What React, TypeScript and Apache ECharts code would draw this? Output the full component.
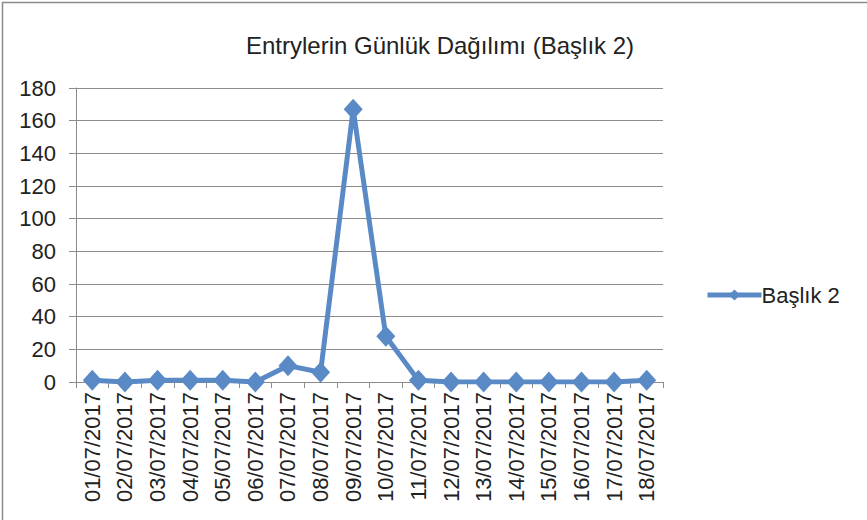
import React, { useEffect, useRef } from "react";
import * as echarts from "echarts";

const TITLE = "Entrylerin Günlük Dağılımı (Başlık 2)";
const SERIES_NAME = "Başlık 2";
const categories = [
  "01/07/2017", "02/07/2017", "03/07/2017", "04/07/2017", "05/07/2017", "06/07/2017",
  "07/07/2017", "08/07/2017", "09/07/2017", "10/07/2017", "11/07/2017", "12/07/2017",
  "13/07/2017", "14/07/2017", "15/07/2017", "16/07/2017", "17/07/2017", "18/07/2017",
];
const values = [1, 0, 1, 1, 1, 0, 10, 6, 167, 28, 1, 0, 0, 0, 0, 0, 0, 1];
const yMin = 0;
const yMax = 180;
const yInterval = 20;

const FONT = "'Liberation Sans', Arial, Helvetica, sans-serif";
const BLUE = "#5A8AC5";

export default function App() {
  const ref = useRef<HTMLDivElement>(null);
  useEffect(() => {
    if (!ref.current) return;
    const chart = echarts.init(ref.current, null, { renderer: "svg" });
    chart.setOption({
      animation: false,
      backgroundColor: "#ffffff",
      textStyle: { fontFamily: FONT },
      title: {
        text: TITLE,
        left: 435,
        textAlign: "center",
        top: 28,
        textStyle: { fontFamily: FONT, fontSize: 24, fontWeight: "normal", color: "#222" },
      },
      legend: {
        data: [SERIES_NAME],
        left: 700,
        top: 279,
        itemWidth: 54,
        itemHeight: 14,
        itemGap: 4,
        lineStyle: { width: 5, color: BLUE },
        textStyle: { fontFamily: FONT, fontSize: 22, color: "#222", padding: [0, 0, 0, -5] },
      },
      grid: { left: 76, right: 204, top: 88, bottom: 138, containLabel: false },
      xAxis: {
        type: "category",
        data: categories,
        boundaryGap: true,
        axisLine: { lineStyle: { color: "#8c8c8c", width: 1 } },
        axisTick: { show: true, length: 6, alignWithLabel: false, lineStyle: { color: "#8c8c8c" } },
        axisLabel: {
          rotate: 90,
          interval: 0,
          margin: 10,
          fontFamily: FONT,
          fontSize: 22,
          color: "#222",
        },
        splitLine: { show: false },
      },
      yAxis: {
        type: "value",
        min: yMin,
        max: yMax,
        interval: yInterval,
        axisLine: { show: true, lineStyle: { color: "#8c8c8c", width: 1 } },
        axisTick: { show: true, length: 7, lineStyle: { color: "#8c8c8c" } },
        axisLabel: { fontFamily: FONT, fontSize: 22, color: "#222", margin: 20 },
        splitLine: { show: true, lineStyle: { color: "#8c8c8c", width: 1 } },
      },
      series: [
        {
          name: SERIES_NAME,
          type: "line",
          data: values,
          symbol: "diamond",
          symbolSize: [19, 21],
          showAllSymbol: true,
          lineStyle: { color: BLUE, width: 5 },
          itemStyle: { color: BLUE },
        },
      ],
      graphic: [
        {
          type: "polyline",
          shape: { points: [[2.5, 520], [2.5, 2.5], [867, 2.5]] },
          style: { stroke: "#8a8a8a", lineWidth: 1.5, fill: "none" },
          silent: true,
        },
      ],
    });
    return () => chart.dispose();
  }, []);
  return (
    <div
      ref={ref}
      style={{ position: "fixed", left: 0, top: 0, width: 867, height: 520, background: "#fff" }}
    />
  );
}
